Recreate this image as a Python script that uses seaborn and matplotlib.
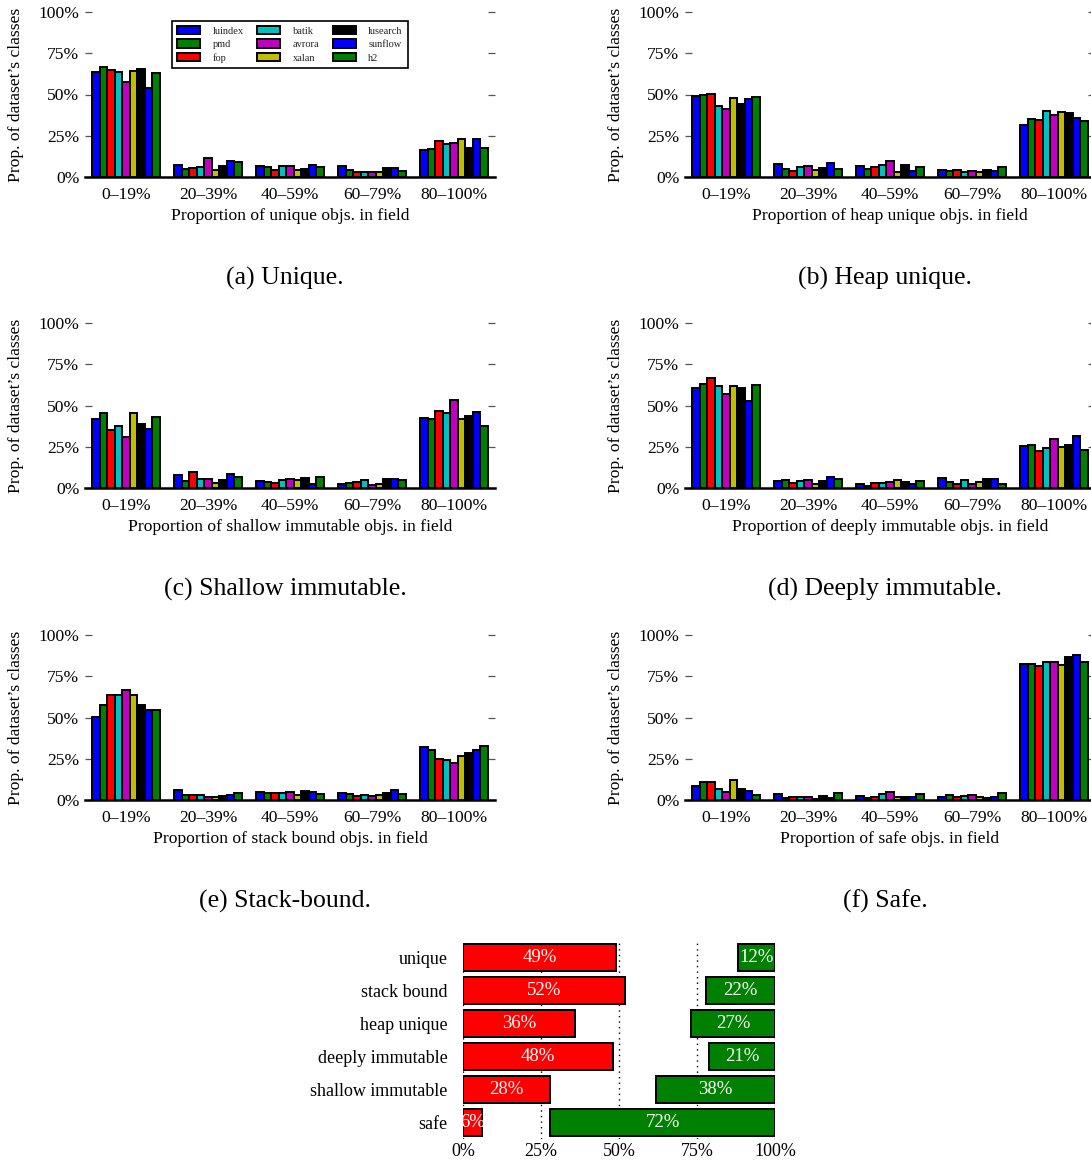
import matplotlib
matplotlib.use("Agg")
import matplotlib.pyplot as plt
import pandas as pd
import seaborn as sns

# ---------------------------------------------------------------- data
BINS = ["0–19%", "20–39%", "40–59%", "60–79%", "80–100%"]
BENCHMARKS = ["luindex", "pmd", "fop", "batik", "avrora", "xalan",
              "lusearch", "sunflow", "h2"]
BAR_COLORS = ["#0000ff", "#008000", "#ff0000", "#00bfbf", "#bf00bf",
              "#bfbf00", "#000000", "#0000ff", "#008000"]

# share of each benchmark's classes (%) per bin, one row per benchmark
UNIQUE = [
    [63.6, 7.3, 6.5, 6.5, 16.2],
    [66.7, 5.1, 5.9, 4.4, 17.0],
    [64.8, 5.3, 4.0, 3.0, 22.0],
    [63.6, 5.9, 6.7, 3.2, 20.2],
    [57.6, 11.5, 6.9, 2.8, 20.8],
    [64.4, 4.0, 4.0, 3.2, 22.8],
    [65.7, 6.5, 4.8, 5.7, 17.6],
    [53.9, 9.5, 7.5, 5.7, 23.2],
    [63.0, 9.1, 6.1, 3.8, 17.6],
]
HEAP_UNIQUE = [
    [48.9, 8.1, 6.5, 4.4, 31.7],
    [49.5, 5.1, 5.1, 3.6, 35.4],
    [50.1, 3.6, 6.1, 4.4, 34.7],
    [42.8, 6.1, 7.5, 2.8, 39.8],
    [41.4, 6.7, 9.9, 3.8, 37.6],
    [48.1, 4.4, 3.2, 3.2, 39.2],
    [44.0, 5.7, 7.1, 4.2, 39.0],
    [47.1, 8.3, 3.6, 3.8, 35.8],
    [48.3, 5.1, 6.1, 6.1, 33.7],
]
SHALLOW_IMMUTABLE = [
    [41.6, 8.1, 4.2, 2.6, 42.4],
    [45.3, 4.2, 3.8, 2.8, 42.0],
    [35.4, 9.5, 3.2, 3.8, 46.5],
    [37.6, 5.5, 4.6, 4.6, 45.5],
    [31.1, 5.7, 5.7, 2.0, 53.5],
    [45.3, 3.2, 4.6, 2.6, 41.8],
    [39.0, 4.6, 6.1, 5.3, 43.8],
    [36.0, 8.7, 2.2, 5.7, 46.3],
    [42.8, 6.5, 6.5, 4.8, 37.4],
]
DEEPLY_IMMUTABLE = [
    [60.6, 4.2, 2.6, 6.1, 25.3],
    [63.2, 4.8, 1.0, 3.4, 26.1],
    [66.9, 3.2, 2.8, 2.4, 22.6],
    [62.0, 4.2, 3.0, 4.6, 24.0],
    [57.2, 4.8, 3.6, 2.6, 29.9],
    [61.8, 2.4, 4.6, 3.6, 25.1],
    [60.6, 4.2, 3.4, 5.3, 25.9],
    [52.5, 6.7, 2.2, 5.7, 31.7],
    [62.6, 5.7, 4.2, 2.6, 22.8],
]
STACK_BOUND = [
    [50.5, 6.1, 5.1, 4.2, 32.3],
    [57.6, 3.2, 4.0, 3.4, 30.3],
    [63.6, 3.2, 4.0, 2.6, 24.8],
    [63.8, 2.8, 4.0, 3.2, 24.0],
    [66.7, 2.0, 4.8, 2.2, 22.4],
    [63.6, 1.8, 2.8, 2.8, 26.7],
    [57.8, 2.6, 5.3, 4.4, 28.3],
    [54.3, 2.8, 4.8, 6.1, 30.3],
    [54.3, 4.4, 3.6, 3.6, 32.7],
]
SAFE = [
    [8.7, 3.4, 2.4, 1.6, 82.6],
    [10.7, 1.2, 1.4, 3.2, 82.2],
    [10.7, 2.0, 2.0, 1.8, 81.2],
    [6.9, 2.0, 3.6, 2.6, 83.4],
    [4.6, 2.0, 5.1, 2.8, 83.6],
    [12.3, 0.8, 1.6, 1.6, 81.8],
    [6.7, 2.6, 2.0, 1.2, 86.7],
    [5.7, 1.2, 2.0, 1.8, 87.9],
    [2.8, 4.4, 3.6, 4.2, 83.4],
]

X_LABELS = [
    "Proportion of unique objs. in field",
    "Proportion of heap unique objs. in field",
    "Proportion of shallow immutable objs. in field",
    "Proportion of deeply immutable objs. in field",
    "Proportion of stack bound objs. in field",
    "Proportion of safe objs. in field",
]
CAPTIONS = ["(a) Unique.", "(b) Heap unique.", "(c) Shallow immutable.",
            "(d) Deeply immutable.", "(e) Stack-bound.", "(f) Safe."]

# summary: share of fields in the lowest / highest bin
SUMMARY_CATS = ["unique", "stack bound", "heap unique", "deeply immutable",
                "shallow immutable", "safe"]
LOW_SHARE = [49, 52, 36, 48, 28, 6]
HIGH_SHARE = [12, 22, 27, 21, 38, 72]

# ---------------------------------------------------------------- style
sns.set_theme(style="white")
plt.rcParams["font.family"] = ["Liberation Serif", "DejaVu Serif"]

W, H = 1091, 1161
fig = plt.figure(figsize=(W / 100, H / 100), dpi=100)


def px_axes(left, top, width, height):
    return fig.add_axes([left / W, 1 - (top + height) / H, width / W, height / H])


palette = dict(zip(BENCHMARKS, BAR_COLORS))
tables = [UNIQUE, HEAP_UNIQUE, SHALLOW_IMMUTABLE, DEEPLY_IMMUTABLE,
          STACK_BOUND, SAFE]
row_tops = [12, 323, 635]
col_lefts = [85, 685]
ax_w, ax_h = 410, 165
TXT = 12.6

for k, table in enumerate(tables):
    r, c = divmod(k, 2)
    ax = px_axes(col_lefts[c], row_tops[r], ax_w, ax_h)
    df = pd.DataFrame(
        [(b, BINS[j], table[i][j])
         for i, b in enumerate(BENCHMARKS) for j in range(len(BINS))],
        columns=["benchmark", "bin", "share"],
    )
    sns.barplot(data=df, x="bin", y="share", hue="benchmark",
                order=BINS, hue_order=BENCHMARKS, palette=palette,
                saturation=1, width=0.82, edgecolor="black", linewidth=1.4,
                errorbar=None, legend=False, ax=ax)
    ax.set_xlim(-0.5, 4.5)
    ax.set_ylim(0, 100)
    ax.set_yticks([0, 25, 50, 75, 100])
    ax.set_yticklabels(["0%", "25%", "50%", "75%", "100%"])
    for side in ("left", "right", "top"):
        ax.spines[side].set_visible(False)
    ax.spines["bottom"].set_color("black")
    ax.spines["bottom"].set_linewidth(1.8)
    ax.tick_params(axis="y", left=True, right=True, direction="in",
                   length=5, width=0.9, color="#555555", labelsize=TXT,
                   pad=4, labelcolor="black")
    ax.tick_params(axis="x", bottom=False, labelsize=TXT, pad=1.5,
                   labelcolor="black")
    ax.set_xlabel(X_LABELS[k], fontsize=TXT, color="black", labelpad=3)
    ax.set_ylabel("Prop. of dataset’s classes", fontsize=TXT, color="black")
    ax.yaxis.set_label_coords(-0.148, 0.5)
    fig.text((col_lefts[c] + ax_w / 2 - 5) / W, 1 - (row_tops[r] + 266) / H,
             CAPTIONS[k], ha="center", va="center", fontsize=18.5,
             color="black")
    if k == 0:
        leg = ax.legend(ax.containers, BENCHMARKS, ncol=3,
                        loc="upper center", bbox_to_anchor=(0.5, 0.98),
                        fontsize=7.5, frameon=True, fancybox=False,
                        edgecolor="black", handlelength=2.2,
                        handleheight=0.9, columnspacing=1.3,
                        labelspacing=0.35, borderpad=0.5, handletextpad=1.2)
        leg.get_frame().set_linewidth(1.2)
        leg.get_frame().set_alpha(1)

# ---------------------------------------------------------------- summary
axs = px_axes(463, 941, 312, 198)
sns.barplot(x=LOW_SHARE, y=SUMMARY_CATS, orient="h", color="#ff0000",
            saturation=1, width=0.82, edgecolor="black", linewidth=1.4,
            errorbar=None, ax=axs)
sns.barplot(x=HIGH_SHARE, y=SUMMARY_CATS, orient="h", color="#008000",
            saturation=1, width=0.82, edgecolor="black", linewidth=1.4,
            errorbar=None, left=[100 - v for v in HIGH_SHARE], ax=axs)
for cont, vals in zip(axs.containers, (LOW_SHARE, HIGH_SHARE)):
    texts = axs.bar_label(cont, labels=[f"{v}%" for v in vals],
                          label_type="center", color="white", fontsize=13.5)
    for t in texts:
        t.set_clip_on(True)
axs.set_xlim(0, 100)
axs.set_xticks([0, 25, 50, 75, 100])
axs.set_xticklabels(["0%", "25%", "50%", "75%", "100%"])
axs.set_xlabel("")
axs.set_ylabel("")
for side in axs.spines:
    axs.spines[side].set_visible(False)
axs.set_axisbelow(True)
axs.xaxis.grid(True, linestyle=(0, (1, 3)), color="black", linewidth=1.0)
axs.tick_params(axis="both", length=0, labelsize=13, labelcolor="black")
axs.tick_params(axis="x", pad=3)
axs.tick_params(axis="y", pad=11)

fig.savefig("out.png", dpi=100)
